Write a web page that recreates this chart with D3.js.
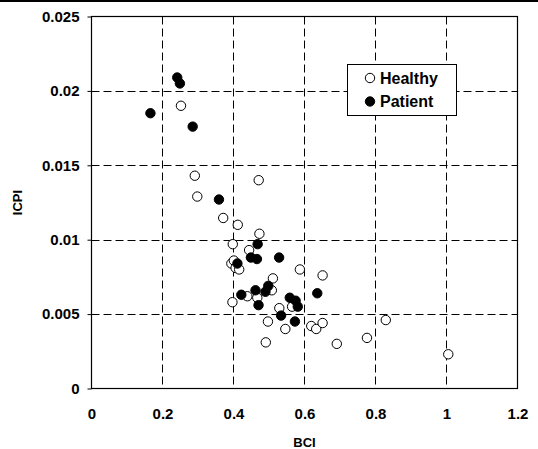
<!DOCTYPE html>
<html>
<head>
<meta charset="utf-8">
<script src="https://cdn.jsdelivr.net/npm/d3@7"></script>
<style>
  body { margin: 0; background: #fff; }
  svg { display: block; font-family: "Liberation Sans", Arial, sans-serif; font-weight: bold; }
</style>
</head>
<body>
<div id="chart"></div>
<script>
// data
var healthyBCI  = [0.252, 0.291, 0.298, 0.471, 0.371, 0.412, 0.473, 0.398, 0.444, 0.394, 0.401,
                   0.406, 0.416, 0.587, 0.651, 0.511, 0.508, 0.439, 0.467, 0.397, 0.529, 0.565,
                   0.497, 0.546, 0.491, 0.619, 0.633, 0.651, 0.691, 0.776, 0.829, 1.005];
var healthyICPI = [0.0190, 0.0143, 0.0129, 0.0140, 0.01146, 0.0110, 0.0104, 0.0097, 0.0093, 0.0084, 0.0086,
                   0.0081, 0.0080, 0.0080, 0.0076, 0.0074, 0.0066, 0.0062, 0.0061, 0.0058, 0.0054, 0.0055,
                   0.0045, 0.0040, 0.0031, 0.0042, 0.0040, 0.0044, 0.0030, 0.0034, 0.0046, 0.0023];
var patientBCI  = [0.166, 0.2415, 0.249, 0.285, 0.359, 0.468, 0.449, 0.466, 0.411, 0.5285, 0.422,
                   0.462, 0.498, 0.490, 0.4705, 0.5585, 0.575, 0.581, 0.534, 0.573, 0.636];
var patientICPI = [0.0185, 0.0209, 0.0205, 0.0176, 0.0127, 0.0097, 0.0088, 0.0087, 0.0084, 0.0088, 0.0063,
                   0.0066, 0.0069, 0.0065, 0.0056, 0.0061, 0.0059, 0.0055, 0.0049, 0.0045, 0.0064];
var xTicks = [0, 0.2, 0.4, 0.6, 0.8, 1, 1.2];
var yTicks = [0, 0.005, 0.01, 0.015, 0.02, 0.025];
var seriesNames = ["Healthy", "Patient"];

var width = 538, height = 449;
var margin = { top: 16.5, right: 20.5, bottom: 60.5, left: 91.5 };

var svg = d3.select("#chart").append("svg")
    .attr("width", width)
    .attr("height", height);

// thin black band along the top edge
svg.append("rect")
    .attr("x", 0).attr("y", 0)
    .attr("width", width).attr("height", 2)
    .attr("fill", "#000");

var x = d3.scaleLinear().domain([0, 1.2]).range([margin.left, width - margin.right]);
var y = d3.scaleLinear().domain([0, 0.025]).range([height - margin.bottom, margin.top]);

// dashed grid
svg.append("g").selectAll("line")
    .data(xTicks.slice(1, -1))
    .enter().append("line")
    .attr("x1", function(d) { return Math.floor(x(d)) + 0.5; })
    .attr("x2", function(d) { return Math.floor(x(d)) + 0.5; })
    .attr("y1", y(0.025)).attr("y2", y(0))
    .attr("stroke", "#000").attr("stroke-dasharray", "8,4");

svg.append("g").selectAll("line")
    .data(yTicks.slice(1, -1))
    .enter().append("line")
    .attr("y1", function(d) { return Math.round(y(d)) + 0.5; })
    .attr("y2", function(d) { return Math.round(y(d)) + 0.5; })
    .attr("x1", x(0)).attr("x2", x(1.2))
    .attr("stroke", "#000").attr("stroke-dasharray", "8,4");

// frame
svg.append("rect")
    .attr("x", x(0)).attr("y", y(0.025))
    .attr("width", x(1.2) - x(0)).attr("height", y(0) - y(0.025))
    .attr("fill", "none").attr("stroke", "#000").attr("stroke-width", 1.2);

// axes
var xAxis = svg.append("g")
    .attr("transform", "translate(0," + y(0) + ")")
    .call(d3.axisBottom(x).tickValues(xTicks).tickSize(0).tickPadding(20)
        .tickFormat(function(d) { return d3.format("~g")(d); }));
xAxis.select(".domain").remove();
xAxis.selectAll("text").attr("font-size", 15).attr("font-weight", "bold").attr("fill", "#000")
    .attr("font-family", "Liberation Sans, Arial, sans-serif");

var yAxis = svg.append("g")
    .attr("transform", "translate(" + x(0) + ",0)")
    .call(d3.axisLeft(y).tickValues(yTicks).tickSize(4).tickPadding(8)
        .tickFormat(function(d) { return d3.format("~g")(d); }));
yAxis.select(".domain").remove();
yAxis.selectAll("line").attr("stroke", "#000");
yAxis.selectAll("text").attr("font-size", 15).attr("font-weight", "bold").attr("fill", "#000")
    .attr("font-family", "Liberation Sans, Arial, sans-serif");

// axis titles
svg.append("text")
    .attr("x", (x(0) + x(1.2)) / 2).attr("y", 447)
    .attr("text-anchor", "middle").attr("font-size", 13)
    .text("BCI");

svg.append("text")
    .attr("transform", "translate(22," + (y(0) + y(0.025)) / 2 + ") rotate(-90)")
    .attr("text-anchor", "middle").attr("font-size", 13)
    .text("ICPI");

// points
var r = 4.7;
svg.append("g").selectAll("circle")
    .data(d3.range(healthyBCI.length))
    .enter().append("circle")
    .attr("cx", function(i) { return x(healthyBCI[i]); })
    .attr("cy", function(i) { return y(healthyICPI[i]); })
    .attr("r", r)
    .attr("fill", "#fff").attr("stroke", "#000").attr("stroke-width", 1);

svg.append("g").selectAll("circle")
    .data(d3.range(patientBCI.length))
    .enter().append("circle")
    .attr("cx", function(i) { return x(patientBCI[i]); })
    .attr("cy", function(i) { return y(patientICPI[i]); })
    .attr("r", r)
    .attr("fill", "#000").attr("stroke", "#000").attr("stroke-width", 1);

// legend
var legend = svg.append("g");
legend.append("rect")
    .attr("x", 347.5).attr("y", 64.5)
    .attr("width", 109).attr("height", 51)
    .attr("fill", "#fff").attr("stroke", "#000").attr("stroke-width", 1);

var legendRows = legend.selectAll("g.row")
    .data(seriesNames)
    .enter().append("g")
    .attr("class", "row")
    .attr("transform", function(d, i) { return "translate(370," + (78 + i * 23.5) + ")"; });

legendRows.append("circle")
    .attr("r", r)
    .attr("fill", function(d, i) { return i === 0 ? "#fff" : "#000"; })
    .attr("stroke", "#000");

legendRows.append("text")
    .attr("x", 10).attr("dy", "0.36em")
    .attr("font-size", 16)
    .text(function(d) { return d; });
</script>
</body>
</html>
